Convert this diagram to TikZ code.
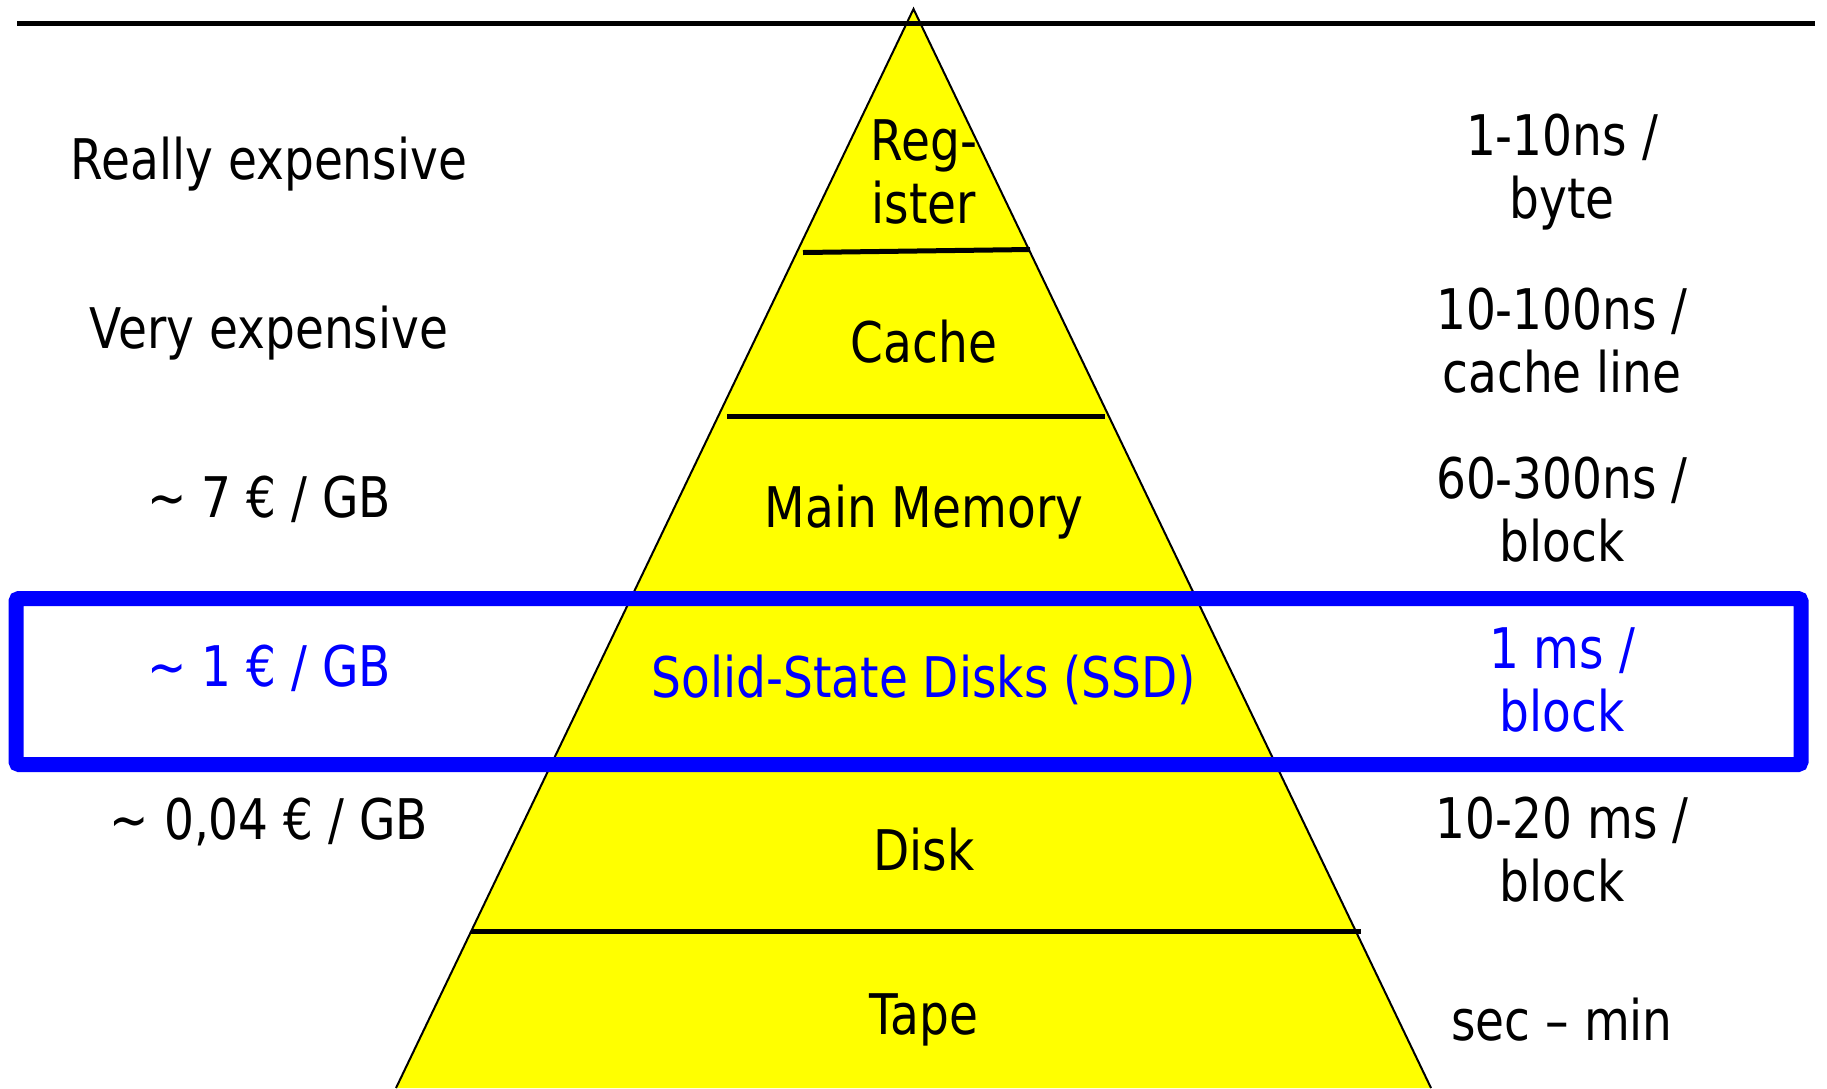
\documentclass[tikz,border=0pt]{standalone}
\usepackage{fontspec}
\setmainfont[FakeStretch=0.84]{DejaVu Sans}
\usepackage{xcolor}
\usetikzlibrary{calc}
\definecolor{pyramid}{RGB}{255,255,0}
\definecolor{ssdblue}{RGB}{0,0,255}

\begin{document}
\begin{tikzpicture}[x=1pt,y=-1pt]
        \tikzstyle{every node}=[font=\fontsize{56}{63}\selectfont, align=center, inner sep=0pt]
        \tikzstyle{divider}=[line width=5pt]
        \tikzstyle{ssd}=[text=ssdblue]
        \useasboundingbox (0,0) rectangle (1827,1088);

        \coordinate (apex) at (913.5,9);
        \coordinate (bl) at (396,1088);
        \coordinate (br) at (1431,1088);
        \fill[pyramid] (bl) -- (apex) -- (br) -- cycle;
        \draw[line width=2pt] (bl) -- (apex) -- (br);

        \draw[divider] (803,252.5) -- (1030,249.5);
        \draw[divider] (727,416) -- (1105,416);
        \draw[divider] (471,931) -- (1361,931);
        \draw[line width=5pt] (17,23) -- (1815,23);

        \node (c1) at (269,164) {Really expensive};
        \node (c2) at (269,333) {Very expensive};
        \node (c3) at (269,499) {\textasciitilde{} 7 € / GB};
        \node[ssd] (c4) at (269,668) {\textasciitilde{} 1 € / GB};
        \node (c5) at (269,822) {\textasciitilde{} 0,04 € / GB};

        \node (l1) at (924,172) {Reg-\\ister};
        \node (l2) at (924,342) {Cache};
        \node (l3) at (924,512) {Main Memory};
        \node[ssd] (l4) at (924,680) {Solid-State Disks (SSD)};
        \node (l5) at (924,850) {Disk};
        \node (l6) at (924,1020) {Tape};

        \node (t1) at (1562,172) {1-10ns /\\byte};
        \node (t2) at (1562,341) {10-100ns /\\cache line};
        \node (t3) at (1562,510) {60-300ns /\\block};
        \node[ssd] (t4) at (1562,680) {1 ms /\\block};
        \node (t5) at (1562,850) {10-20 ms /\\block};
        \node (t6) at (1562,1020) {sec – min};

        \draw[ssdblue, line width=15pt, rounded corners=3pt] (16,598.5) rectangle (1801,764.5);
    \end{tikzpicture}
\end{document}
